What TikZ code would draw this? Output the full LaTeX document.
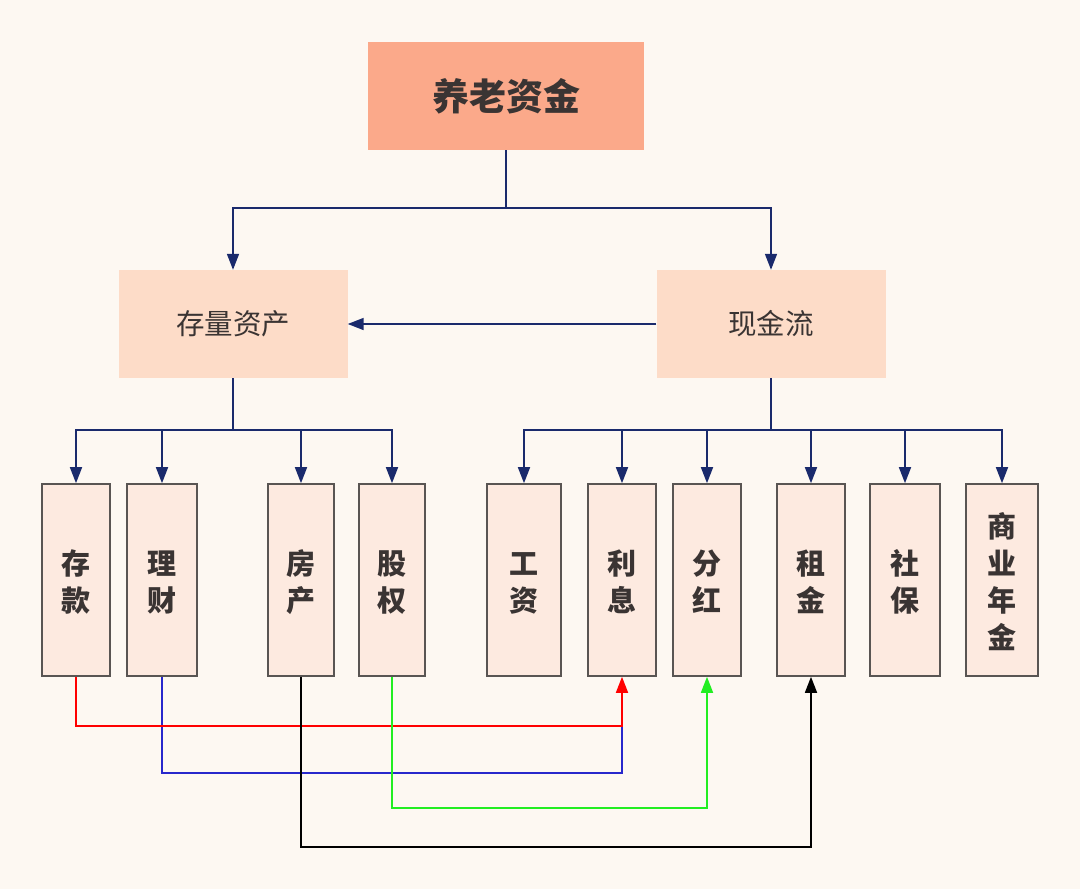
\documentclass[tikz,border=0pt]{standalone}
\usepackage{fontspec}
\setmainfont{Noto Sans CJK SC}
\usetikzlibrary{arrows.meta}
\definecolor{bgc}{HTML}{FDF8F2}
\definecolor{topc}{HTML}{FBA98A}
\definecolor{midc}{HTML}{FDDCC8}
\definecolor{leafc}{HTML}{FDEAE0}
\definecolor{bordc}{HTML}{595553}
\definecolor{txtc}{HTML}{3A3433}
\definecolor{navc}{HTML}{1A2A6C}
\definecolor{bluec}{HTML}{2828CC}
\definecolor{greenc}{HTML}{22EE22}
\newcommand{\leaftxt}[1]{\smash{\raisebox{-12pt}{\begin{tabular}{@{}c@{}}#1\end{tabular}}}}
\tikzset{
  topbox/.style={fill=topc, minimum width=276pt, minimum height=108pt, inner sep=0pt, text=txtc, font=\fontsize{37}{40}\selectfont\bfseries},
  midbox/.style={fill=midc, minimum width=229pt, minimum height=108pt, inner sep=0pt, text=txtc, font=\fontsize{28.5}{32}\selectfont},
  leaf/.style={fill=leafc, draw=bordc, line width=1.6pt, minimum height=192pt, inner sep=0pt, text=txtc, font=\fontsize{29}{37}\selectfont\bfseries},
  nav/.style={draw=navc, line width=1.6pt},
  tip/.style={-{Triangle[width=12pt,length=16pt]}},
}
\begin{document}
\begin{tikzpicture}[x=1pt,y=-1pt]
\fill[bgc] (0,0) rectangle (1080,889);
\useasboundingbox (0,0) rectangle (1080,889);
\node[topbox] (top) at (506,96) {养老资金};
\node[midbox] (stock) at (233,324) {存量资产};
\node[midbox] (flow) at (771,324) {现金流};
\node[leaf, minimum width=68pt] (ck) at (76,580) {\leaftxt{存\\款}};
\node[leaf, minimum width=70pt] (lc) at (162,580) {\leaftxt{理\\财}};
\node[leaf, minimum width=66pt] (fc) at (301,580) {\leaftxt{房\\产}};
\node[leaf, minimum width=66pt] (gq) at (392,580) {\leaftxt{股\\权}};
\node[leaf, minimum width=74pt] (gz) at (524,580) {\leaftxt{工\\资}};
\node[leaf, minimum width=68pt] (lx) at (622,580) {\leaftxt{利\\息}};
\node[leaf, minimum width=68pt] (fh) at (707,580) {\leaftxt{分\\红}};
\node[leaf, minimum width=68pt] (zj) at (811,580) {\leaftxt{租\\金}};
\node[leaf, minimum width=70pt] (sb) at (905,580) {\leaftxt{社\\保}};
\node[leaf, minimum width=72pt] (sy) at (1002,580) {\leaftxt{商\\业\\年\\金}};
% top tree
\coordinate (j1) at (506,208);
\draw[nav] (top.south) -- (j1);
\draw[nav,tip] (j1) -| (stock.north);
\draw[nav,tip] (j1) -| (flow.north);
\draw[nav,tip] (flow.west) -- (stock.east);
% stock branch
\coordinate (j2) at (233,430);
\draw[nav] (stock.south) -- (j2);
\foreach \n in {ck,lc,fc,gq} \draw[nav,tip] (j2) -| (\n.north);
% flow branch
\coordinate (j3) at (771,430);
\draw[nav] (flow.south) -- (j3);
\foreach \n in {gz,lx,fh,zj,sb,sy} \draw[nav,tip] (j3) -| (\n.north);
% cross links
\coordinate (r1) at (76,726);
\coordinate (b1) at (162,773);
\coordinate (b2) at (622,726);
\coordinate (g1) at (392,808);
\coordinate (k1) at (301,847);
\draw[bluec, line width=1.6pt] (lc.south) -- (b1) -| (b2);
\draw[red, line width=1.6pt, tip] (ck.south) -- (r1) -| (lx.south);
\draw[greenc, line width=1.6pt, tip] (gq.south) -- (g1) -| (fh.south);
\draw[black, line width=1.6pt, tip] (fc.south) -- (k1) -| (zj.south);
\end{tikzpicture}
\end{document}
